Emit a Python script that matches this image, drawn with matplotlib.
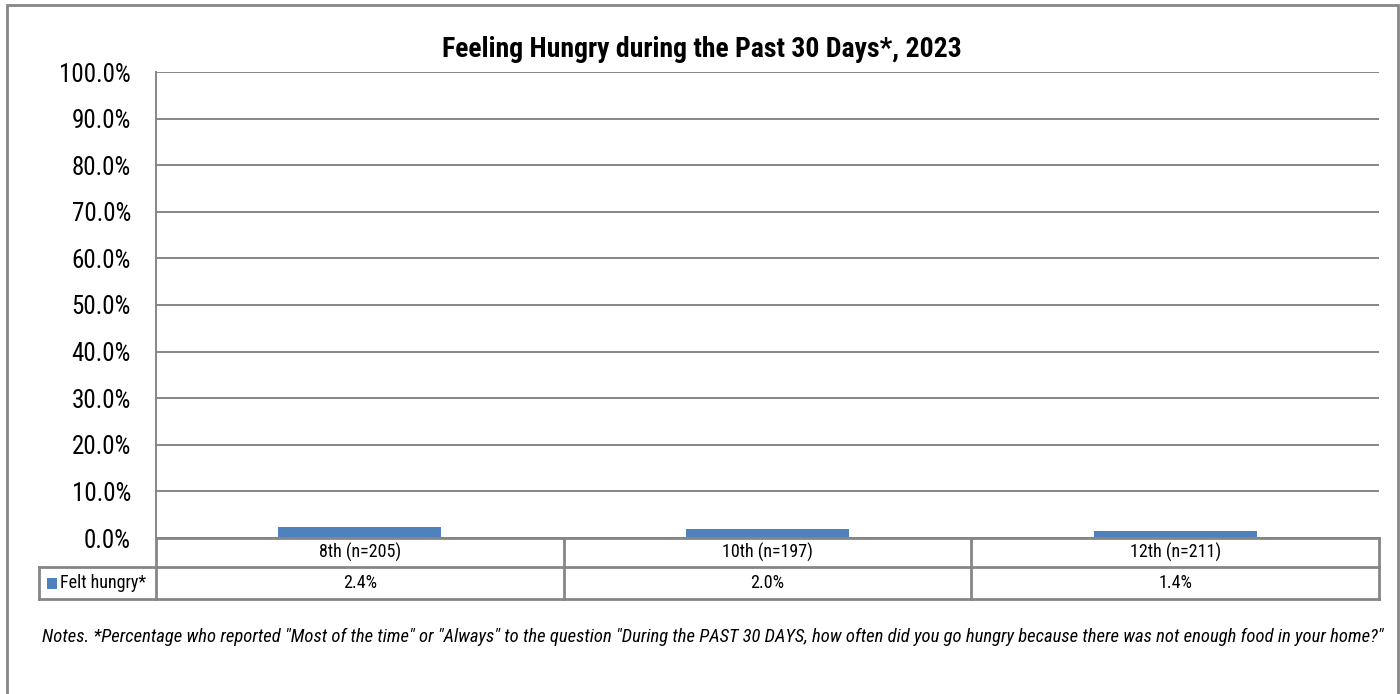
import matplotlib
matplotlib.use("Agg")
import matplotlib.pyplot as plt
from matplotlib import font_manager
from matplotlib.patches import Rectangle
from matplotlib.ticker import PercentFormatter

# Data
categories = ["8th (n=205)", "10th (n=197)", "12th (n=211)"]
felt_hungry = [2.4, 2.0, 1.4]
series_name = "Felt hungry*"
title = "Feeling Hungry during the Past 30 Days*, 2023"
note = ('Notes. *Percentage who reported "Most of the time" or "Always" to the question '
        '"During the PAST 30 DAYS, how often did you go hungry because there was not enough food in your home?"')
y_ticks = [0, 10, 20, 30, 40, 50, 60, 70, 80, 90, 100]

# Narrow sans-serif faces, picked by what is installed
_fonts = font_manager.fontManager.ttflist
_candidates = ["Roboto Condensed", "Archivo Narrow", "PT Sans Narrow", "Liberation Sans"]


def pick(cond):
    for c in _candidates:
        if any(f.name == c and cond(f) for f in _fonts):
            return c
    return "Liberation Sans"


FONT = pick(lambda f: f.style == "normal")
FONT_BOLD = pick(lambda f: f.weight in (700, "bold") and f.style == "normal")
FONT_IT = pick(lambda f: f.style == "italic")
plt.rcParams["font.family"] = [FONT, "DejaVu Sans"]

BAR_COLOR = "#4F81BD"
GRID_COLOR = "#868686"
W, H = 1400, 694

fig = plt.figure(figsize=(W / 100, H / 100), dpi=100)
fig.patch.set_facecolor("white")


def fx(px):
    return px / W


def fy(py):
    return 1 - py / H


# Outer chart border
fig.add_artist(Rectangle((fx(7), fy(720)), fx(1391), 715 / H, transform=fig.transFigure,
                         fill=False, edgecolor=GRID_COLOR, linewidth=2.0))

# Plot area
left_px, right_px, top_px, bottom_px = 156, 1379, 72, 538
ax = fig.add_axes([fx(left_px), fy(bottom_px), fx(right_px - left_px), (bottom_px - top_px) / H])
x = list(range(len(categories)))
ax.bar(x, felt_hungry, width=0.4, color=BAR_COLOR, zorder=3)
ax.set_xlim(-0.5, len(categories) - 0.5)
ax.set_ylim(0, 100)
ax.set_yticks(y_ticks)
ax.yaxis.set_major_formatter(PercentFormatter(decimals=1))
ax.set_xticks([])
ax.tick_params(axis="y", length=0, labelsize=18, pad=18)
ax.grid(axis="y", color=GRID_COLOR, linewidth=1.4, zorder=0)
for s in ("top", "right", "bottom"):
    ax.spines[s].set_visible(False)
ax.spines["left"].set_color(GRID_COLOR)
ax.spines["left"].set_linewidth(1.4)
ax.set_title(title, fontsize=20, fontweight="bold", fontfamily=[FONT_BOLD, "DejaVu Sans"],
             pad=11, x=(702 - left_px) / (right_px - left_px))

# Data table under the plot
cat_w = (right_px - left_px) / len(categories)
tab_left_px, tab_bottom_px = 39, 599
tax = fig.add_axes([fx(tab_left_px), fy(tab_bottom_px), fx(right_px - tab_left_px),
                    (tab_bottom_px - bottom_px) / H])
tax.set_xlim(-0.5 - (left_px - tab_left_px) / cat_w, len(categories) - 0.5)
tax.set_ylim(0, tab_bottom_px - bottom_px)
tax.axis("off")
lc = dict(color=GRID_COLOR, linewidth=2.0, solid_capstyle="projecting", clip_on=False)
top_row = tab_bottom_px - bottom_px
row_split = tab_bottom_px - 567
x_leg = tax.get_xlim()[0]
x_end = len(categories) - 0.5
tax.plot([-0.5, x_end], [top_row, top_row], **lc)
tax.plot([x_leg, x_end], [row_split, row_split], **lc)
tax.plot([x_leg, x_end], [0, 0], **lc)
tax.plot([x_leg, x_leg], [0, row_split], **lc)
for b in [-0.5 + i for i in range(len(categories) + 1)]:
    tax.plot([b, b], [0, top_row], **lc)
for i, (cat, v) in enumerate(zip(categories, felt_hungry)):
    tax.text(i, (top_row + row_split) / 2, cat, ha="center", va="center", fontsize=13)
    tax.text(i, row_split / 2, f"{v:.1f}%", ha="center", va="center", fontsize=13)

# Legend key in the series row
fig.add_artist(Rectangle((fx(47), fy(589)), fx(10), 11 / H, transform=fig.transFigure,
                         facecolor=BAR_COLOR, edgecolor="none"))
fig.text(fx(60), fy(583), series_name, ha="left", va="center", fontsize=13)

# Footnote
fig.text(fx(42), fy(637), note, ha="left", va="center", fontsize=13.4, style="italic",
         fontfamily=[FONT_IT, "DejaVu Sans"])

fig.savefig("out.png", dpi=100, facecolor="white")
